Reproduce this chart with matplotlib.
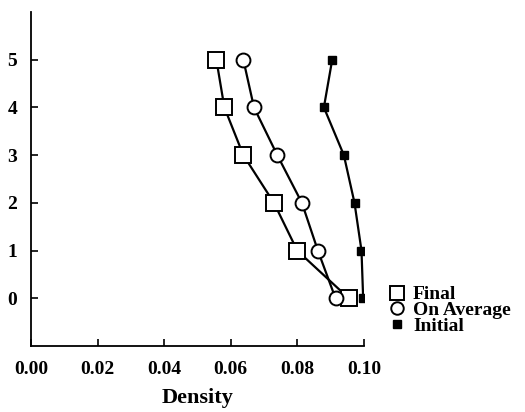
import matplotlib
matplotlib.use("Agg")
import matplotlib.pyplot as plt

# ---- data ----
levels = [0, 1, 2, 3, 4, 5]
final = [0.0955, 0.0800, 0.0730, 0.0638, 0.0581, 0.0557]
on_average = [0.0915, 0.0862, 0.0814, 0.0740, 0.0670, 0.0638]
initial = [0.0998, 0.0993, 0.0972, 0.0940, 0.0880, 0.0905]
x_ticks = [0.00, 0.02, 0.04, 0.06, 0.08, 0.10]
x_labels = ["0.00", "0.02", "0.04", "0.06", "0.08", "0.10"]

plt.rcParams["font.family"] = ["Liberation Serif", "DejaVu Serif"]
plt.rcParams["font.weight"] = "bold"

fig = plt.figure(figsize=(5.25, 4.12), dpi=100)
ax = fig.add_axes([0.059, 0.160, 0.634, 0.811])

ax.plot(final, levels, color="black", lw=1.6, marker="s", ms=11,
        mfc="white", mec="black", mew=1.4, label="Final", zorder=3)
ax.plot(on_average, levels, color="black", lw=1.6, marker="o", ms=10,
        mfc="white", mec="black", mew=1.4, label="On Average", zorder=3)
ax.plot(initial, levels, color="black", lw=1.6, marker="s", ms=6,
        mfc="black", mec="black", label="Initial", zorder=4)

ax.set_xlim(0, 0.1)
ax.set_ylim(-1, 6)
ax.set_xticks(x_ticks)
ax.set_xticklabels(x_labels)
ax.set_yticks(levels)
ax.tick_params(direction="in", length=5, width=1.2, labelsize=14)
ax.tick_params(axis="x", pad=11)
ax.tick_params(axis="y", pad=10)
for lab in ax.get_xticklabels() + ax.get_yticklabels():
    lab.set_fontweight("bold")
ax.set_xlabel("Density", fontsize=16, fontweight="bold", labelpad=7)

ax.spines["top"].set_visible(False)
ax.spines["right"].set_visible(False)
ax.spines["left"].set_linewidth(1.3)
ax.spines["bottom"].set_linewidth(1.3)

# legend sits to the right of the axes, no lines
handles = [
    plt.Line2D([], [], ls="none", marker="s", ms=10, mfc="white", mec="black", mew=1.4),
    plt.Line2D([], [], ls="none", marker="o", ms=9, mfc="white", mec="black", mew=1.4),
    plt.Line2D([], [], ls="none", marker="s", ms=6, mfc="black", mec="black"),
]
leg = fig.legend(handles, ["Final", "On Average", "Initial"],
                 loc="upper left", bbox_to_anchor=(0.722, 0.33),
                 frameon=False, fontsize=14, handlelength=0.8,
                 handletextpad=0.45, labelspacing=-0.1, borderpad=0)
for t in leg.get_texts():
    t.set_fontweight("bold")

fig.savefig("out.png", dpi=100)
